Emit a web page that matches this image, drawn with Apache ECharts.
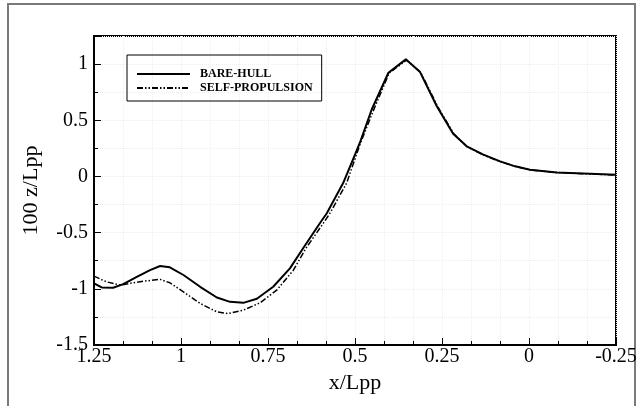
<!DOCTYPE html>
<html>
<head>
<meta charset="utf-8">
<script src="https://cdn.jsdelivr.net/npm/echarts@6/dist/echarts.min.js"></script>
<style>
  html, body { margin: 0; padding: 0; background: #fff; }
  #wave { width: 642px; height: 406px; }
</style>
</head>
<body>
<div id="wave"></div>
<script>
// wave profile along the hull
var bareX = [1.25, 1.228, 1.195, 1.166, 1.127, 1.089, 1.060, 1.032, 0.993, 0.945, 0.897, 0.859, 0.821, 0.782, 0.735, 0.687, 0.649, 0.601, 0.581, 0.534, 0.500, 0.486, 0.452, 0.404, 0.354, 0.313, 0.265, 0.218, 0.179, 0.131, 0.083, 0.040, -0.003, -0.080, -0.175, -0.25];
var bareY = [-0.952, -0.988, -0.991, -0.958, -0.893, -0.833, -0.797, -0.809, -0.877, -0.982, -1.077, -1.116, -1.125, -1.089, -0.982, -0.818, -0.639, -0.416, -0.327, -0.059, 0.194, 0.30, 0.596, 0.923, 1.042, 0.929, 0.625, 0.380, 0.268, 0.194, 0.134, 0.09, 0.060, 0.036, 0.024, 0.015];

var selfX = [1.25, 1.214, 1.175, 1.137, 1.099, 1.060, 1.032, 0.993, 0.945, 0.897, 0.864, 0.821, 0.773, 0.725, 0.677, 0.641, 0.591, 0.572, 0.524, 0.484, 0.448, 0.402, 0.352, 0.311, 0.262, 0.216, 0.178, 0.131, 0.083, 0.040, -0.003, -0.080, -0.175, -0.25];
var selfY = [-0.887, -0.938, -0.967, -0.946, -0.929, -0.916, -0.946, -1.027, -1.130, -1.205, -1.220, -1.190, -1.125, -1.012, -0.834, -0.639, -0.416, -0.327, -0.059, 0.30, 0.58, 0.92, 1.035, 0.925, 0.62, 0.38, 0.265, 0.19, 0.132, 0.09, 0.058, 0.035, 0.022, 0.013];

var names = ['BARE-HULL', 'SELF-PROPULSION'];

function pairs(xs, ys) {
    return xs.map(function (x, i) { return [x, ys[i]]; });
}

var serif = 'Liberation Serif';
var gridLine = { show: true, lineStyle: { color: '#efefef', type: 'dotted', width: 1 } };

var myChart = echarts.init(document.getElementById('wave'));
myChart.setOption({
    animation: false,
    graphic: [{
        type: 'rect',
        shape: { x: 8, y: 4, width: 627, height: 420 },
        style: { fill: 'none', stroke: '#7a7a7a', lineWidth: 2 },
        silent: true
    }],
    grid: {
        left: 94, right: 26, top: 36, bottom: 61,
        show: true, borderColor: '#000', borderWidth: 2
    },
    legend: {
        orient: 'vertical',
        left: 127,
        top: 55,
        padding: [13, 9, 7, 9],
        itemGap: 2,
        itemWidth: 53,
        itemHeight: 14,
        borderColor: '#000',
        borderWidth: 1,
        data: names,
        itemStyle: { opacity: 0 },
        textStyle: {
            fontFamily: serif,
            fontWeight: 'bold',
            fontSize: 12,
            color: '#000',
            padding: [0, 0, 0, 5]
        }
    },
    xAxis: {
        type: 'value',
        inverse: true,
        min: -0.25,
        max: 1.25,
        interval: 0.25,
        name: 'x/Lpp',
        nameLocation: 'middle',
        nameGap: 18,
        nameTextStyle: { fontFamily: serif, fontSize: 22, color: '#000' },
        axisLine: { onZero: false, lineStyle: { color: '#000', width: 2 } },
        axisTick: { inside: true, length: 7, lineStyle: { color: '#000', width: 1 } },
        minorTick: { show: true, splitNumber: 3, length: 4, lineStyle: { color: '#000', width: 1 } },
        axisLabel: { fontFamily: serif, fontSize: 20, color: '#000', margin: 2 },
        splitLine: gridLine,
        minorSplitLine: gridLine
    },
    yAxis: {
        type: 'value',
        min: -1.5,
        max: 1.25,
        interval: 0.5,
        name: '100 z/Lpp',
        nameLocation: 'middle',
        nameGap: 52,
        nameTextStyle: { fontFamily: serif, fontSize: 22, color: '#000' },
        axisLine: { show: true, onZero: false, lineStyle: { color: '#000', width: 2 } },
        axisTick: { show: true, inside: true, length: 7, lineStyle: { color: '#000', width: 1 } },
        minorTick: { show: true, splitNumber: 2, length: 4, lineStyle: { color: '#000', width: 1 } },
        axisLabel: { fontFamily: serif, fontSize: 20, color: '#000', margin: 6, showMaxLabel: false },
        splitLine: gridLine,
        minorSplitLine: gridLine
    },
    series: [
        {
            name: names[0],
            type: 'line',
            symbol: 'none',
            data: pairs(bareX, bareY),
            lineStyle: { color: '#000', width: 2 },
            itemStyle: { color: '#000' },
            z: 3
        },
        {
            name: names[1],
            type: 'line',
            symbol: 'none',
            data: pairs(selfX, selfY),
            lineStyle: { color: '#000', width: 1.5, type: [6, 2, 1.5, 2, 1.5, 2] },
            itemStyle: { color: '#000' },
            z: 2
        }
    ]
});
</script>
</body>
</html>
